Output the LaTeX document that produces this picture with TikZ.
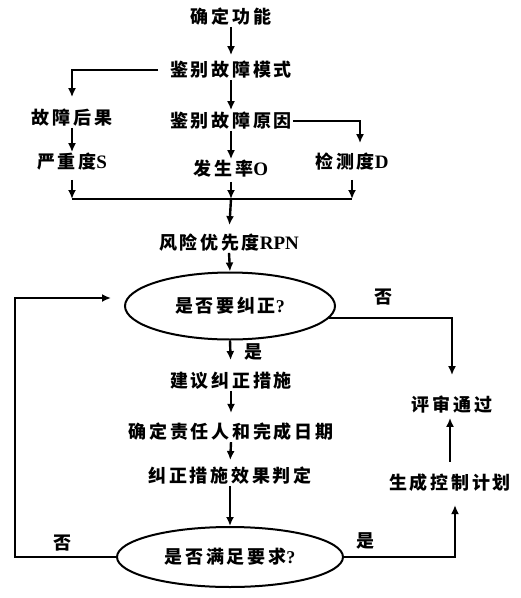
\documentclass[tikz,border=0pt]{standalone}
\usepackage{fontspec}
\setmainfont{Noto Sans CJK SC}[LetterSpace=15]
\newfontfamily\lat{Liberation Serif}
\usetikzlibrary{arrows.meta,shapes.geometric}
\begin{document}
\begin{tikzpicture}[x=1pt,y=-1pt,
 every node/.style={font=\fontsize{18}{22}\selectfont\bfseries, inner sep=1pt},
 lnk/.style={line width=2.4pt},
 arr/.style={lnk,-{Latex[length=9pt,width=8pt]}},
 dec/.style={ellipse, draw, line width=2pt, inner sep=0pt},
]
\useasboundingbox (0,0) rectangle (521,598);
% nodes
\node (n1) at (231,17) {确定功能};
\node (n2) at (231,70) {鉴别故障模式};
\node (n3) at (72,118) {故障后果};
\node (n4) at (231,121) {鉴别故障原因};
\node (n5) at (72,162) {严重度{\lat\fontsize{19}{22}\selectfont S}};
\node (n6) at (231,169) {发生率{\lat\fontsize{19}{22}\selectfont O}};
\node (n7) at (352,162) {检测度{\lat\fontsize{19}{22}\selectfont D}};
\coordinate (jl) at (72,199);
\coordinate (jm) at (231,199);
\coordinate (jr) at (352,199);
\node (n8) at (229,243) {风险优先度{\lat\fontsize{19}{22}\selectfont RPN}};
\node[dec, minimum width=210pt, minimum height=67pt] (d1) at (230,306) {是否要纠正{\lat ?}};
\node (n9) at (231,381) {建议纠正措施};
\node (n10) at (231,432) {确定责任人和完成日期};
\node (n11) at (230,476) {纠正措施效果判定};
\node[dec, minimum width=226pt, minimum height=60pt] (d2) at (230,557) {是否满足要求{\lat ?}};
\node (n12) at (450,483) {生成控制计划};
\node (n13) at (452,405) {评审通过};
\node (l1) at (383,297) {否};
\node (l2) at (253,352) {是};
\node (l3) at (62,543) {否};
\node (l4) at (365,541) {是};
\coordinate (lc) at (15,298);
% connectors
\draw[arr, shorten >=5pt] (n1.south) -- (n2.north);
\draw[arr, shorten >=1pt] (n2.south) -- (n4.north);
\draw[arr] (n4.south) -- (n6.north);
\draw[arr, shorten <=11pt, shorten >=11pt] (n2.west) -| (n3.north);
\draw[arr, shorten >=9pt] (n4.east) -| ([xshift=8pt]n7.north);
\draw[arr] (n3.south) -- (n5.north);
\draw[arr, shorten <=8pt] (n5.south) -- (jl);
\draw[arr, shorten <=3pt] (n6.south) -- (jm);
\draw[arr, shorten <=8pt] (n7.south) -- (jr);
\draw[lnk] (jl) -- (jr);
\draw[arr, shorten >=8pt] (jm) -- (n8.north);
\draw[arr] (n8.south) -- (d1.north);
\draw[arr, shorten >=11pt] (d1.south) -- (n9.north);
\draw[arr, shorten >=9pt] (n9.south) -- (n10.north);
\draw[arr, shorten >=6pt] (n10.south) -- (n11.north);
\draw[arr] (n11.south) -- (d2.north);
\draw[arr, shorten >=20pt] (d1.-7) -| (n13.north);
\draw[arr, shorten >=12pt] (d2.east) -| ([xshift=5pt]n12.south);
\draw[arr, shorten <=11pt, shorten >=3pt] (n12.north) -- (n12.north |- n13.south);
\draw[arr] (d2.west) -| (lc) -- ([xshift=-13pt]d1.west |- lc);
\end{tikzpicture}
\end{document}
